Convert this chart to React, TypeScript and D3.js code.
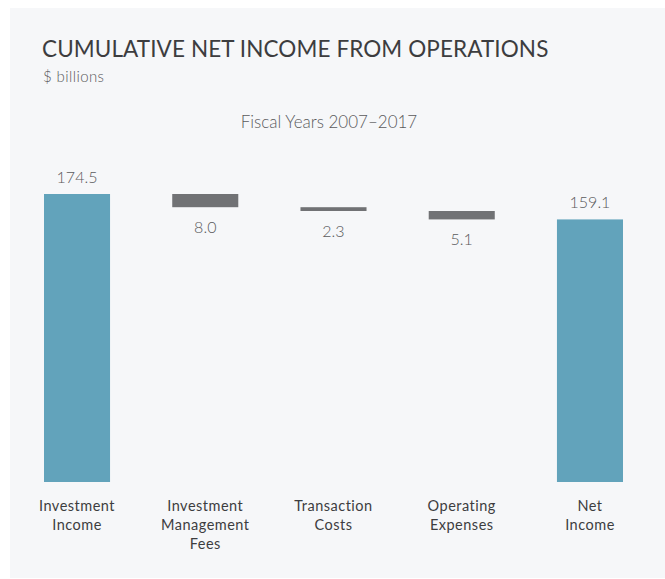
import React from "react";
import * as d3 from "d3";

const categories = ["Investment Income", "Investment Management Fees", "Transaction Costs", "Operating Expenses", "Net Income"];
const categoryLines = [["Investment", "Income"], ["Investment", "Management", "Fees"], ["Transaction", "Costs"], ["Operating", "Expenses"], ["Net", "Income"]];
const values = [174.5, -8.0, -2.3, -5.1, 159.1];
const kinds = ["total", "delta", "delta", "delta", "total"];
const valueLabels = ["174.5", "8.0", "2.3", "5.1", "159.1"];

const W = 665;
const H = 579;
const FONT = "Lato, 'Open Sans', sans-serif";

export default function App() {
  const x = d3.scaleBand<string>().domain(categories).range([44, 623]).paddingInner(0.485).paddingOuter(0);
  const y = d3.scaleLinear().domain([0, 174.5]).range([482, 194]);

  let running = 0;
  const bars = categories.map((c, i) => {
    let y0: number, y1: number;
    if (kinds[i] === "total") {
      y0 = 0;
      y1 = values[i];
      running = values[i];
    } else {
      y0 = running + values[i];
      y1 = running;
      running = y0;
    }
    return { c, i, y0, y1, kind: kinds[i] };
  });

  return (
    <svg width={W} height={H} style={{ position: "absolute", left: 0, top: 0 }} fontFamily={FONT}>
      <rect x={0} y={0} width={W} height={H} fill="#ffffff" />
      <rect x={10} y={8} width={W - 10} height={570} fill="#f6f7f9" />
      <text x={42} y={56.5} fontSize={22.5} fill="#3d3d3f" letterSpacing={0.1}>
        CUMULATIVE NET INCOME FROM OPERATIONS
      </text>
      <text x={43} y={82} fontSize={15} fill="#5a5a5c" fontWeight={300} letterSpacing={0.4}>$ billions</text>
      <text x={329} y={128} fontSize={17} fill="#5a5a5c" fontWeight={300} textAnchor="middle">Fiscal Years 2007–2017</text>
      {bars.map((b) => {
        const bx = x(b.c)!;
        const bw = x.bandwidth();
        const top = y(b.y1);
        const bottom = y(b.y0);
        const cx = bx + bw / 2;
        const isTotal = b.kind === "total";
        return (
          <g key={b.c}>
            <rect x={bx} y={top} width={bw} height={bottom - top} fill={isTotal ? "#62a3bb" : "#717275"} />
            <text
              x={cx}
              y={isTotal ? top - 11 : bottom + 26}
              fontSize={16}
              fill="#5a5a5c"
              fontWeight={300}
              textAnchor="middle"
            >
              {valueLabels[b.i]}
            </text>
            <text x={cx} y={511} fontSize={14.5} fill="#3d3d3f" textAnchor="middle" letterSpacing={0.5}>
              {categoryLines[b.i].map((l, k) => (
                <tspan key={k} x={cx} dy={k === 0 ? 0 : 19}>{l}</tspan>
              ))}
            </text>
          </g>
        );
      })}
    </svg>
  );
}
